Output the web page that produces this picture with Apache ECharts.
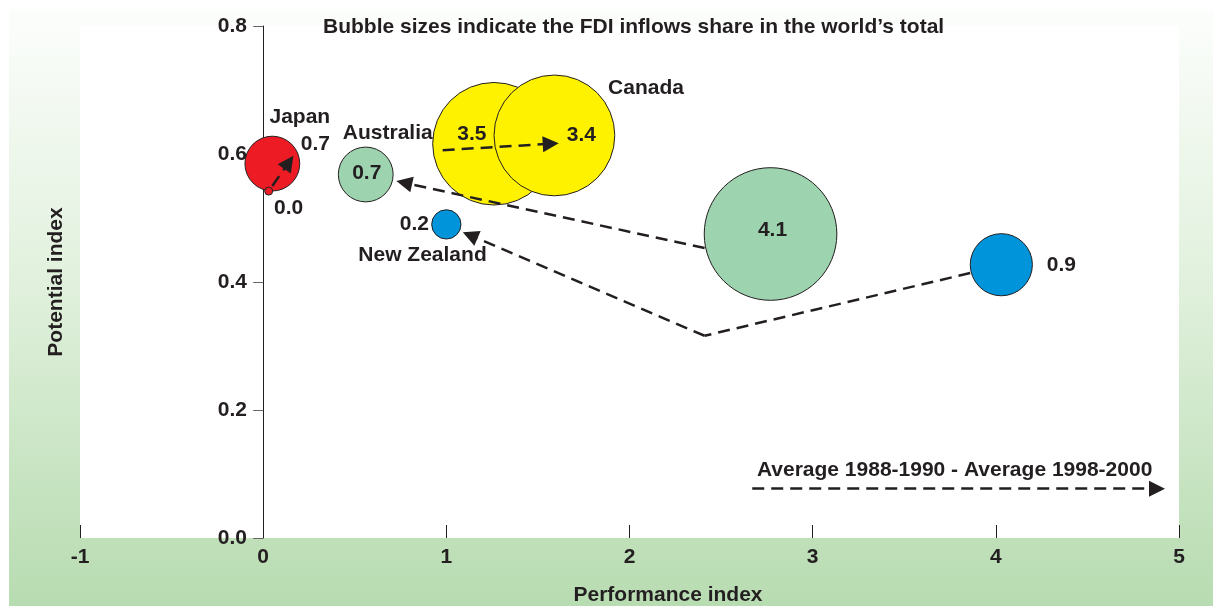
<!DOCTYPE html>
<html>
<head>
<meta charset="utf-8">
<title>FDI performance and potential</title>
<script src="https://cdn.jsdelivr.net/npm/echarts@6/dist/echarts.min.js"></script>
<style>
  html, body { margin: 0; padding: 0; background: #fff; }
  #chart { width: 1213px; height: 606px; }
</style>
</head>
<body>
<div id="chart"></div>
<script>
// countries, same order in every array below
const countries = ['Japan', 'Australia', 'Canada', 'New Zealand'];

// average 1988-1990
const perf8890 = [0.03, 2.77, 1.26, 4.03];
const pot8890 = [0.542, 0.475, 0.616, 0.427];
const share8890 = [0.0, 4.1, 3.5, 0.9];

// average 1998-2000
const perf9800 = [0.05, 0.56, 1.59, 1.00];
const pot9800 = [0.585, 0.568, 0.629, 0.490];
const share9800 = [0.7, 0.7, 3.4, 0.2];

// where the country names are written
const namePerf = [0.20, 0.68, 2.09, 0.87];
const namePot = [0.658, 0.633, 0.703, 0.442];

// dashed arrows, [performance, potential] points, first period -> second
const arrowPaths = [
  [[0.05, 0.550], [0.14, 0.587]],
  [[2.41, 0.453], [0.77, 0.555]],
  [[0.98, 0.606], [1.57, 0.616]],
  [[3.86, 0.414], [2.41, 0.316], [1.13, 0.473]]
];
const keyArrow = [[2.67, 0.077], [4.88, 0.077]];
const keyText = 'Average 1988-1990 - Average 1998-2000';

const xMin = -1, xMax = 5, xStep = 1;
const yMin = 0, yMax = 0.8, yStep = 0.2;

// styling
const colors = ['#ed1c24', '#9dd3ae', '#fff200', '#0095da'];
const ink = '#231f20';
const font = '"Liberation Sans", Arial, sans-serif';
const fs = 21;
const offset8890 = [[20, 17], [2, -4], [-22, -10], [60, 0]];
const offset9800 = [[43, -19], [1, -1], [27, 0], [-32, 0]];

let bubbles = [];
countries.forEach(function (c, i) {
  bubbles.push({
    name: c,
    value: [perf8890[i], pot8890[i], share8890[i]],
    itemStyle: { color: colors[i] },
    label: { offset: offset8890[i] }
  });
  bubbles.push({
    name: c,
    value: [perf9800[i], pot9800[i], share9800[i]],
    itemStyle: { color: colors[i] },
    label: { offset: offset9800[i] }
  });
});
// big ones first so the small ones stay on top
bubbles.sort(function (a, b) { return b.value[2] - a.value[2]; });

let plainSegs = [];
let headSegs = [];
arrowPaths.forEach(function (p) {
  for (let k = 0; k < p.length - 1; k++) {
    let seg = { coords: [p[k], p[k + 1]] };
    if (k == p.length - 2) headSegs.push(seg); else plainSegs.push(seg);
  }
});

const dashed = { color: ink, width: 2.5, type: [12, 7], opacity: 1 };
const boldText = { fontFamily: font, fontWeight: 'bold', fontSize: fs, color: ink };

let myChart = echarts.init(document.getElementById('chart'));
let option = {
  animation: false,
  backgroundColor: {
    type: 'linear', x: 0, y: 0, x2: 0, y2: 1,
    colorStops: [
      { offset: 0, color: '#fdfefd' },
      { offset: 0.45, color: '#e2f1de' },
      { offset: 0.88, color: '#c0e0ba' },
      { offset: 1, color: '#b8dcb2' }
    ]
  },
  textStyle: { fontFamily: font },
  title: {
    text: 'Bubble sizes indicate the FDI inflows share in the world\u2019s total',
    left: 318,
    top: 12,
    textStyle: boldText
  },
  graphic: [
    { type: 'rect', left: 0, top: 0, shape: { width: 9, height: 606 }, style: { fill: '#fff' }, silent: true },
    { type: 'rect', left: 0, top: 0, shape: { width: 1213, height: 9 }, style: { fill: '#fff' }, silent: true }
  ],
  grid: {
    show: true,
    left: 80, right: 34, top: 26, bottom: 68,
    outerBoundsMode: 'none',
    containLabel: false,
    backgroundColor: '#fff',
    borderWidth: 0
  },
  xAxis: {
    type: 'value',
    min: xMin, max: xMax, interval: xStep,
    name: 'Performance index',
    nameLocation: 'middle',
    nameGap: 47,
    nameTextStyle: Object.assign({}, boldText, { padding: [0, 0, 0, 77] }),
    axisLine: { show: false },
    axisTick: { show: true, inside: true, length: 13, lineStyle: { color: ink, width: 1 } },
    axisLabel: Object.assign({ margin: 9 }, boldText),
    splitLine: { show: false }
  },
  yAxis: {
    type: 'value',
    min: yMin, max: yMax, interval: yStep,
    name: 'Potential index',
    nameLocation: 'middle',
    nameGap: 13,
    nameTextStyle: boldText,
    axisLine: { show: true, onZero: true, lineStyle: { color: ink, width: 1 } },
    axisTick: { show: true, length: 10, lineStyle: { color: '#666', width: 1 } },
    axisLabel: Object.assign({
      margin: -167,
      formatter: function (v) { return v.toFixed(1); }
    }, boldText),
    splitLine: { show: false }
  },
  series: [
    {
      type: 'scatter',
      data: bubbles,
      symbolSize: function (v) { return Math.max(8, 65.5 * Math.sqrt(v[2])); },
      itemStyle: { borderColor: ink, borderWidth: 1, opacity: 1 },
      label: Object.assign({
        show: true,
        position: 'inside',
        formatter: function (p) { return p.value[2].toFixed(1); }
      }, boldText),
      emphasis: { disabled: true },
      z: 2
    },
    {
      type: 'scatter',
      data: countries.map(function (c, i) { return { name: c, value: [namePerf[i], namePot[i]] }; }),
      symbolSize: 0,
      silent: true,
      itemStyle: { opacity: 1 },
      label: Object.assign({
        show: true,
        position: 'inside',
        formatter: function (p) { return p.name; }
      }, boldText),
      z: 3
    },
    {
      type: 'lines',
      coordinateSystem: 'cartesian2d',
      data: plainSegs,
      symbol: 'none',
      lineStyle: dashed,
      silent: true,
      z: 4
    },
    {
      type: 'lines',
      coordinateSystem: 'cartesian2d',
      data: headSegs,
      symbol: ['none', 'triangle'],
      symbolSize: 16,
      itemStyle: { color: ink },
      lineStyle: dashed,
      silent: true,
      z: 4
    },
    {
      type: 'lines',
      coordinateSystem: 'cartesian2d',
      data: [{ coords: keyArrow }],
      symbol: ['none', 'triangle'],
      symbolSize: 16,
      lineStyle: dashed,
      label: Object.assign({
        show: true,
        position: 'middle',
        distance: 8,
        formatter: keyText
      }, boldText),
      silent: true,
      z: 4
    }
  ]
};
myChart.setOption(option);
</script>
</body>
</html>
